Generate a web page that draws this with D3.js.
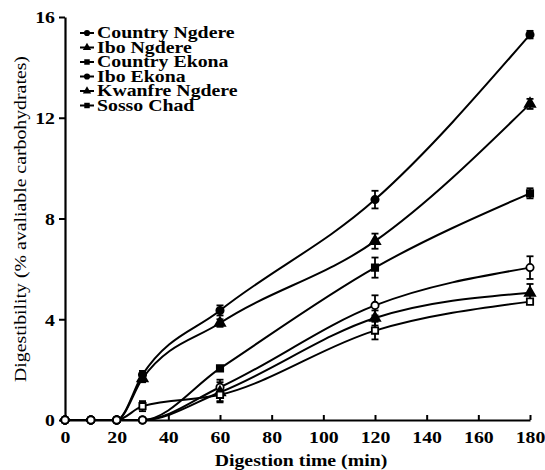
<!DOCTYPE html>
<html>
<head>
<meta charset="utf-8">
<script src="https://cdn.jsdelivr.net/npm/d3@7"></script>
<style>
  html, body { margin: 0; padding: 0; background: #fff; }
  svg { display: block; }
</style>
</head>
<body>
<svg id="chart" width="545" height="470"></svg>
<script>
// ---- data ----
const times = [0, 10, 20, 30, 60, 120, 180];
const seriesNames = ["Country Ngdere", "Ibo Ngdere", "Country Ekona", "Ibo Ekona", "Kwanfre Ngdere", "Sosso Chad"];
const countryNgdere    = [0, 0, 0, 1.80, 4.35, 8.75, 15.30];
const iboNgdere        = [0, 0, 0, 1.65, 3.85, 7.10, 12.55];
const countryEkona     = [0, 0, 0, 0.00, 2.05, 6.05, 9.00];
const iboEkona         = [0, 0, 0, 0.00, 1.30, 4.55, 6.05];
const kwanfreNgdere    = [0, 0, 0, 0.00, 1.10, 4.05, 5.05];
const sossoChad        = [0, 0, 0, 0.55, 1.00, 3.55, 4.70];
const countryNgdereErr = [0, 0, 0, 0.15, 0.20, 0.35, 0.15];
const iboNgdereErr     = [0, 0, 0, 0.15, 0.15, 0.30, 0.20];
const countryEkonaErr  = [0, 0, 0, 0.00, 0.10, 0.40, 0.20];
const iboEkonaErr      = [0, 0, 0, 0.00, 0.30, 0.40, 0.45];
const kwanfreNgdereErr = [0, 0, 0, 0.00, 0.40, 0.30, 0.35];
const sossoChadErr     = [0, 0, 0, 0.20, 0.25, 0.35, 0.10];
const xTicks = [0, 20, 40, 60, 80, 100, 120, 140, 160, 180];
const yTicks = [0, 4, 8, 12, 16];
const xTitle = "Digestion time (min)";
const yTitle = "Digestibility (% avaliable carbohydrates)";

const seriesValues = [countryNgdere, iboNgdere, countryEkona, iboEkona, kwanfreNgdere, sossoChad];
const seriesErrors = [countryNgdereErr, iboNgdereErr, countryEkonaErr, iboEkonaErr, kwanfreNgdereErr, sossoChadErr];
const symbols = [d3.symbolCircle, d3.symbolTriangle, d3.symbolSquare, d3.symbolCircle, d3.symbolTriangle, d3.symbolSquare];
const filled = [true, true, true, false, true, false];

const FONT = "Liberation Serif";
const FS = 16.5;
const SX = 1.2; // horizontal text stretch seen in the reference

const svg = d3.select("#chart");
const x = d3.scaleLinear().domain([0, 180]).range([65, 530]);
const y = d3.scaleLinear().domain([0, 16]).range([420, 17]);

// axes
const xAxis = svg.append("g").attr("transform", `translate(0,${y(0)})`)
  .call(d3.axisBottom(x).tickValues(xTicks).tickSizeInner(-5).tickSizeOuter(0).tickPadding(15));
const yAxis = svg.append("g").attr("transform", `translate(${x(0)},0)`)
  .call(d3.axisLeft(y).tickValues(yTicks).tickSizeInner(6).tickSizeOuter(0).tickPadding(4));
[xAxis, yAxis].forEach(a => {
  a.attr("font-family", FONT).attr("font-size", FS);
  a.select(".domain").attr("stroke", "#000").attr("stroke-width", 2.2);
  a.selectAll(".tick line").attr("stroke", "#000").attr("stroke-width", 2);
  a.selectAll(".tick text").attr("font-family", FONT).attr("font-size", FS)
    .attr("font-weight", "bold").attr("fill", "#000");
});
xAxis.selectAll(".tick text").attr("transform", `scale(${SX},1)`).attr("dy", "0.5em");
yAxis.selectAll(".tick text").attr("transform", `scale(${SX},1)`).attr("x", -10 / SX).attr("dy", "0.35em");

// lines
const line = d3.line().x((d, i) => x(times[i])).y(d => y(d)).curve(d3.curveMonotoneX);
seriesValues.forEach((vals) => {
  svg.append("path").datum(vals).attr("d", line)
    .attr("fill", "none").attr("stroke", "#000").attr("stroke-width", 2);
});

// error bars
seriesValues.forEach((vals, s) => {
  const errs = seriesErrors[s];
  vals.forEach((v, i) => {
    const e = errs[i];
    if (!e) return;
    const cx = x(times[i]);
    const g = svg.append("g").attr("stroke", "#000").attr("stroke-width", 1.8);
    g.append("line").attr("x1", cx).attr("x2", cx).attr("y1", y(v - e)).attr("y2", y(v + e));
    g.append("line").attr("x1", cx - 3.5).attr("x2", cx + 3.5).attr("y1", y(v - e)).attr("y2", y(v - e));
    g.append("line").attr("x1", cx - 3.5).attr("x2", cx + 3.5).attr("y1", y(v + e)).attr("y2", y(v + e));
  });
});

// markers
const sym = d3.symbol();
seriesValues.forEach((vals, s) => {
  vals.forEach((v, i) => {
    const zero = v === 0;
    const type = zero ? d3.symbolCircle : symbols[s];
    const open = zero || !filled[s];
    const size = type === d3.symbolTriangle ? 45 : (type === d3.symbolSquare ? 40 : 42);
    svg.append("path")
      .attr("d", sym.type(type).size(size)())
      .attr("transform", `translate(${x(times[i])},${y(v)})`)
      .attr("fill", open ? "#fff" : "#000")
      .attr("stroke", "#000").attr("stroke-width", 1.8);
  });
});

// legend
const leg = svg.append("g");
seriesNames.forEach((name, s) => {
  const ly = 33 + s * 14.5;
  leg.append("line").attr("x1", 80).attr("x2", 94).attr("y1", ly).attr("y2", ly)
    .attr("stroke", "#000").attr("stroke-width", 2);
  leg.append("path").attr("d", sym.type(symbols[s]).size(30)())
    .attr("transform", `translate(87,${ly})`).attr("fill", "#000");
  leg.append("text").attr("x", 97 / SX).attr("y", ly).attr("dy", "0.33em")
    .attr("transform", `scale(${SX},1)`).attr("font-family", FONT)
    .attr("font-size", FS).attr("font-weight", "bold").attr("fill", "#000").text(name);
});

// axis titles
svg.append("text").attr("x", 301 / SX).attr("y", 466).attr("transform", `scale(${SX},1)`)
  .attr("font-family", FONT).attr("fill", "#000")
  .attr("text-anchor", "middle").attr("font-size", FS).attr("font-weight", "bold").text(xTitle);
svg.append("text").attr("transform", `translate(26,219) rotate(-90) scale(${SX},1)`)
  .attr("font-family", FONT).attr("fill", "#000")
  .attr("text-anchor", "middle").attr("font-size", FS).text(yTitle);
</script>
</body>
</html>
